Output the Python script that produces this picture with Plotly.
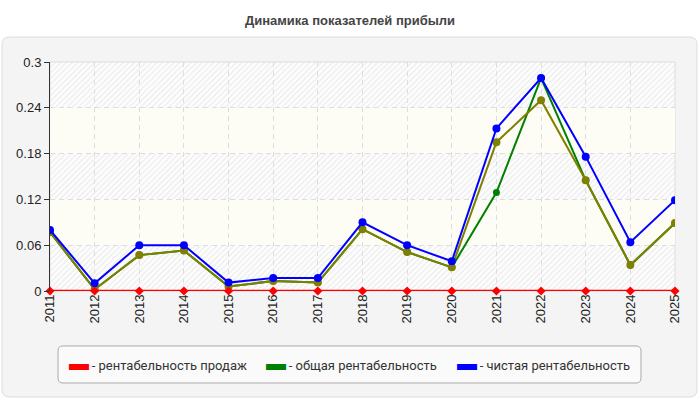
import plotly.graph_objects as go

# years and series
years = list(range(2011, 2026))
sales_margin = [0] * 15
total_margin = [0.077, 0.002, 0.047, 0.053, 0.006, 0.013, 0.011, 0.081, 0.051, 0.031,
                0.129, 0.279, 0.145, 0.034, 0.089]
extra_line = [0.077, 0.002, 0.047, 0.053, 0.006, 0.013, 0.011, 0.081, 0.051, 0.031,
              0.195, 0.250, 0.145, 0.034, 0.089]
net_margin = [0.080, 0.010, 0.060, 0.060, 0.011, 0.017, 0.017, 0.090, 0.060, 0.039,
              0.213, 0.279, 0.176, 0.064, 0.119]
y_ticks = [0, 0.06, 0.12, 0.18, 0.24, 0.3]
y_tick_text = ["0", "0.06", "0.12", "0.18", "0.24", "0.3"]
legend_names = ["- рентабельность продаж", "- общая рентабельность", "- чистая рентабельность"]
legend_colors = ["#ff0000", "#008000", "#0000ff"]


def rounded_box(x0, x1, y0, y1, rx, ry):
    return (f"M {x0+rx},{y0} L {x1-rx},{y0} Q {x1},{y0} {x1},{y0+ry} L {x1},{y1-ry} "
            f"Q {x1},{y1} {x1-rx},{y1} L {x0+rx},{y1} Q {x0},{y1} {x0},{y1-ry} "
            f"L {x0},{y0+ry} Q {x0},{y0} {x0+rx},{y0} Z")


fig = go.Figure()

# striped background bands (hatched / light yellow), taken from the tick steps
shapes = [
    dict(type="path", xref="paper", yref="paper",
         path=rounded_box(-0.0768, 1.0352, -0.463, 1.109, 0.012, 0.033),
         fillcolor="#f4f4f4", line=dict(color="#dddddd", width=1), layer="below"),
    dict(type="rect", xref="paper", yref="paper", x0=0, x1=1, y0=0, y1=1,
         fillcolor="white", line=dict(color="#dddddd", width=1), layer="below"),
    dict(type="path", xref="paper", yref="paper",
         path=rounded_box(0.0128, 0.9456, -0.4017, -0.240, 0.008, 0.022),
         fillcolor="#fafafa", line=dict(color="#aaaaaa", width=1), layer="below"),
]
for i in range(len(y_ticks) - 1):
    lo, hi = y_ticks[i], y_ticks[i + 1]
    if i % 2 == 0:
        fig.add_trace(go.Scatter(
            x=[years[0], years[-1], years[-1], years[0], years[0]],
            y=[lo, lo, hi, hi, lo],
            mode="none", fill="toself", fillcolor="#e2e2e2",
            fillpattern=dict(shape="/", fgcolor="#e2e2e2", bgcolor="rgba(255,255,255,0)",
                             size=4, solidity=0.5),
            hoverinfo="skip", showlegend=False))
    else:
        shapes.append(dict(type="rect", xref="x", yref="y", x0=years[0], x1=years[-1],
                           y0=lo, y1=hi, fillcolor="#fdfdf5", line_width=0, layer="below"))

fig.add_trace(go.Scatter(x=years, y=total_margin, mode="lines+markers",
                         line=dict(color="#008000", width=2), marker=dict(size=7),
                         showlegend=False))
fig.add_trace(go.Scatter(x=years, y=extra_line, mode="lines+markers",
                         line=dict(color="#808000", width=2), marker=dict(size=8),
                         showlegend=False))
fig.add_trace(go.Scatter(x=years, y=net_margin, mode="lines+markers",
                         line=dict(color="#0000ff", width=2), marker=dict(size=8),
                         showlegend=False))
fig.add_trace(go.Scatter(x=years, y=sales_margin, mode="lines+markers",
                         line=dict(color="#ff0000", width=2.5),
                         marker=dict(size=7, symbol="diamond"), showlegend=False,
                         cliponaxis=False))

# one small legend per entry so each can sit where the reference has it
legend_x = [-0.0336, 0.2816, 0.5872]
legend_ids = ["legend", "legend2", "legend3"]
legend_layout = {}
for name, color, lid, lx in zip(legend_names, legend_colors, legend_ids, legend_x):
    label = f"<span style='color:{color};font-size:20px'>▬</span>\u2009{name}"
    fig.add_trace(go.Scatter(x=[None], y=[None], mode="markers", name=label, legend=lid,
                             marker=dict(size=1, color="rgba(0,0,0,0)")))
    legend_layout[lid] = dict(orientation="h", x=lx, xanchor="left", y=-0.321,
                              yanchor="middle", bgcolor="rgba(0,0,0,0)", borderwidth=0,
                              font=dict(family="Roboto, Arial", size=13, color="#333"))

fig.update_layout(
    width=700, height=400,
    margin=dict(l=50, r=25, t=62, b=109, autoexpand=False),
    paper_bgcolor="white", plot_bgcolor="rgba(0,0,0,0)",
    font=dict(family="Arial, Liberation Sans", size=13, color="#222"),
    title=dict(text="<b>Динамика показателей прибыли</b>", x=0.5, xanchor="center",
               y=0.95, yanchor="middle", font=dict(size=13, color="#444")),
    shapes=shapes,
    showlegend=True,
    **legend_layout,
)
fig.update_xaxes(range=[years[0], years[-1]], tickvals=years, tickangle=-90,
                 showgrid=True, gridcolor="#dddddd", griddash="5px,4px", zeroline=False,
                 ticks="", showline=False, automargin=False)
fig.update_yaxes(range=[0, 0.3], tickvals=y_ticks, ticktext=y_tick_text,
                 showgrid=True, gridcolor="#dddddd", griddash="5px,4px", zeroline=False,
                 showline=True, linecolor="#333", ticks="outside", ticklen=5,
                 tickcolor="#333", automargin=False)

fig.write_html("out.html", config={"displayModeBar": False},
               post_script="document.body.style.margin='0';")
